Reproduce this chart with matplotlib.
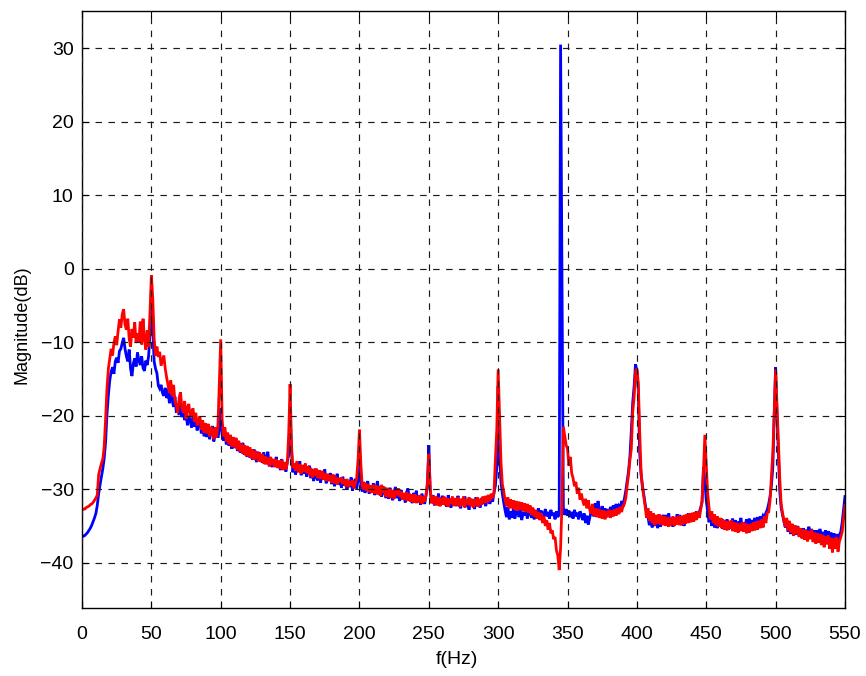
import numpy as np
import matplotlib
matplotlib.use("Agg")
import matplotlib.pyplot as plt

plt.rcParams['font.family'] = ['Liberation Sans', 'DejaVu Sans']

freq_start, freq_stop, freq_step = 0, 550, 1

blue_db = [
    -36.3,-36.4,-36.3,-36.1,-35.9,-35.6,-35.3,-34.9,-34.4,-33.9,
    -33.3,-32.2,-30.6,-29.4,-28.3,-27.2,-25.8,-23.6,-19.8,-17.2,
    -15.2,-14.0,-13.4,-14.3,-12.6,-12.1,-12.8,-11.2,-10.9,-10.1,
    -9.4,-10.9,-11.9,-12.6,-11.0,-13.6,-14.6,-12.9,-12.2,-13.3,
    -11.4,-12.5,-13.1,-11.9,-13.5,-13.9,-12.5,-13.1,-11.9,-8.8,
    -3.0,-8.2,-12.6,-13.6,-14.2,-15.9,-16.3,-15.8,-16.9,-17.3,
    -16.2,-17.6,-16.4,-18.3,-17.0,-17.9,-18.8,-17.4,-19.6,-18.6,
    -19.9,-18.3,-20.2,-19.0,-20.6,-19.5,-21.3,-20.0,-20.7,-21.6,
    -20.2,-21.5,-20.6,-22.0,-21.1,-20.7,-22.4,-21.4,-22.8,-21.9,
    -22.9,-21.6,-23.2,-22.1,-21.4,-23.5,-22.6,-21.9,-23.0,-21.8,
    -19.0,-22.6,-23.4,-22.1,-23.9,-22.8,-24.1,-23.0,-24.5,-23.3,
    -24.4,-23.1,-24.8,-23.6,-25.0,-24.2,-23.7,-25.3,-24.5,-25.6,
    -24.3,-25.7,-24.9,-26.0,-24.6,-25.8,-26.3,-24.9,-26.1,-25.3,
    -26.4,-25.0,-26.6,-25.6,-24.9,-26.8,-25.7,-27.0,-26.0,-26.9,
    -25.6,-27.1,-26.3,-27.4,-25.9,-27.0,-26.5,-27.6,-26.2,-25.4,
    -19.2,-24.8,-27.7,-26.6,-28.0,-26.9,-27.5,-26.2,-28.1,-27.3,
    -27.9,-26.6,-28.3,-27.4,-26.8,-28.5,-27.6,-28.9,-27.2,-28.4,
    -28.8,-27.5,-29.1,-27.9,-28.6,-27.3,-29.2,-28.1,-28.9,-27.8,
    -29.3,-28.2,-29.6,-28.5,-27.9,-29.4,-28.6,-29.8,-28.3,-29.5,
    -28.7,-30.0,-28.9,-29.7,-28.4,-30.2,-29.1,-28.6,-29.9,-28.8,
    -25.0,-29.4,-30.3,-29.0,-30.5,-29.6,-28.9,-30.6,-29.5,-30.4,
    -29.2,-30.8,-29.8,-28.9,-30.7,-29.9,-31.0,-29.6,-30.4,-31.2,
    -30.0,-31.3,-29.8,-30.9,-31.5,-30.3,-29.7,-31.2,-30.6,-31.6,
    -30.1,-31.4,-30.6,-31.8,-30.4,-29.9,-31.5,-30.7,-31.9,-30.5,
    -31.6,-30.2,-31.8,-30.9,-32.1,-30.6,-31.3,-32.0,-30.8,-29.5,
    -24.0,-30.1,-31.9,-30.8,-32.2,-31.1,-31.7,-30.6,-32.3,-31.4,
    -30.9,-32.1,-31.3,-32.4,-30.8,-31.9,-32.5,-31.2,-32.0,-31.5,
    -32.3,-30.9,-31.8,-32.6,-31.4,-32.1,-31.0,-32.4,-31.6,-32.8,
    -31.3,-32.2,-31.6,-32.7,-31.1,-32.3,-31.8,-32.5,-31.2,-32.0,
    -31.4,-32.3,-31.5,-30.8,-32.0,-31.2,-31.7,-30.5,-29.5,-27.0,
    -16.0,-25.5,-29.0,-30.6,-31.8,-32.9,-33.8,-32.4,-34.1,-33.0,
    -33.9,-32.6,-34.0,-33.2,-32.5,-33.8,-32.8,-34.2,-33.1,-33.6,
    -32.7,-34.0,-33.3,-32.6,-33.9,-33.0,-34.1,-32.9,-33.5,-32.6,
    -33.8,-32.9,-34.2,-33.4,-32.7,-33.7,-33.1,-34.0,-32.8,-33.6,
    -33.2,-34.1,-33.0,-33.8,-33.4,30.5,-1.0,-32.5,-33.5,-32.7,
    -33.6,-32.9,-33.8,-33.1,-34.0,-32.8,-33.7,-33.2,-34.1,-33.0,
    -33.5,-34.2,-33.3,-34.6,-33.6,-34.8,-33.9,-33.1,-32.5,-33.7,
    -31.9,-33.2,-31.6,-32.9,-33.6,-32.3,-33.4,-32.6,-33.8,-32.7,
    -33.5,-32.4,-33.3,-32.2,-33.4,-32.0,-32.9,-32.3,-32.7,-31.6,
    -32.4,-31.3,-30.2,-28.8,-27.5,-25.5,-22.0,-18.2,-16.0,-13.0,
    -13.8,-16.5,-25.0,-28.0,-29.5,-30.8,-32.0,-33.2,-33.8,-34.9,
    -33.6,-35.2,-34.1,-35.0,-33.8,-35.3,-34.3,-35.1,-34.0,-33.5,
    -34.8,-33.5,-34.6,-33.3,-34.9,-34.0,-35.1,-33.9,-34.7,-33.4,
    -34.6,-33.5,-34.9,-33.8,-35.0,-33.6,-34.5,-33.3,-34.4,-33.6,
    -34.2,-33.3,-34.0,-33.0,-33.8,-33.1,-32.5,-31.8,-27.0,-29.0,
    -31.5,-33.0,-34.5,-33.4,-35.0,-33.8,-35.2,-34.0,-35.3,-34.2,
    -35.1,-34.0,-35.4,-34.3,-35.3,-34.1,-35.5,-34.5,-35.2,-34.0,
    -35.3,-34.2,-35.6,-34.4,-35.0,-33.9,-35.4,-34.5,-35.2,-34.1,
    -35.1,-34.0,-35.3,-34.2,-34.9,-33.9,-34.8,-33.8,-34.6,-33.7,
    -34.2,-33.6,-33.9,-33.2,-32.8,-32.0,-31.0,-29.5,-27.0,-19.8,
    -13.4,-20.0,-25.0,-30.3,-32.5,-33.5,-34.4,-35.2,-34.3,-35.8,
    -34.7,-36.1,-35.0,-36.3,-35.2,-36.2,-35.0,-36.4,-35.3,-36.5,
    -35.3,-36.6,-35.5,-36.2,-35.1,-36.5,-35.4,-36.7,-35.6,-36.8,
    -35.6,-36.5,-35.4,-36.8,-35.8,-36.9,-35.6,-36.7,-35.7,-37.0,
    -35.9,-37.1,-36.0,-37.2,-36.1,-37.3,-36.2,-35.8,-34.5,-32.8,
    -31.0,
]

red_db = [
    -32.8,-32.7,-32.7,-32.5,-32.4,-32.3,-32.1,-32.0,-31.8,-31.5,
    -31.2,-30.8,-28.0,-27.2,-26.5,-25.9,-24.2,-20.5,-16.3,-13.6,
    -12.2,-10.9,-11.8,-10.1,-9.2,-10.4,-8.5,-6.9,-8.0,-6.2,
    -5.5,-7.6,-8.3,-6.8,-9.5,-10.6,-8.2,-9.4,-7.3,-10.1,
    -8.8,-9.9,-7.2,-10.3,-6.8,-9.6,-11.0,-8.4,-10.6,-6.0,
    -0.9,-4.0,-9.5,-11.8,-10.6,-12.0,-11.3,-13.2,-12.5,-11.8,
    -13.6,-14.8,-15.8,-16.9,-15.2,-17.3,-15.8,-18.0,-18.6,-19.6,
    -17.6,-16.8,-18.9,-19.6,-18.0,-20.4,-18.9,-18.4,-20.2,-19.7,
    -19.0,-20.8,-19.6,-21.3,-20.5,-20.1,-21.9,-20.6,-22.3,-21.0,
    -22.4,-21.1,-22.8,-21.5,-22.0,-23.2,-21.6,-22.9,-21.3,-15.5,
    -9.6,-20.5,-22.8,-21.6,-23.5,-22.3,-23.9,-22.6,-24.2,-22.9,
    -24.3,-23.0,-24.6,-23.4,-24.9,-23.8,-25.2,-24.0,-25.4,-24.1,
    -25.6,-24.3,-25.8,-24.6,-26.0,-24.8,-25.3,-26.2,-25.0,-26.3,
    -25.2,-26.5,-25.5,-26.6,-25.7,-26.9,-25.6,-26.7,-25.9,-27.0,
    -25.9,-27.1,-26.1,-27.2,-26.0,-27.4,-26.3,-27.3,-26.4,-22.5,
    -15.7,-24.0,-27.1,-26.5,-27.5,-26.2,-27.7,-26.6,-27.9,-26.7,
    -27.6,-26.5,-27.8,-26.9,-28.1,-27.1,-28.4,-27.3,-28.2,-27.2,
    -28.5,-27.4,-28.6,-27.5,-28.7,-27.8,-28.9,-27.9,-28.8,-28.1,
    -29.1,-28.0,-29.2,-28.3,-29.4,-28.5,-29.0,-28.4,-29.3,-28.7,
    -29.6,-28.6,-29.7,-28.9,-29.5,-28.8,-29.9,-29.2,-28.5,-26.0,
    -21.9,-26.5,-29.6,-30.0,-29.1,-30.2,-29.3,-30.4,-29.5,-30.5,
    -29.4,-30.6,-29.5,-30.7,-29.6,-30.9,-29.4,-30.5,-29.7,-31.0,
    -29.8,-31.1,-30.0,-31.2,-30.1,-31.3,-30.2,-30.8,-29.9,-31.0,
    -30.3,-31.4,-30.5,-31.5,-30.4,-31.6,-30.6,-31.7,-30.7,-31.8,
    -30.7,-31.9,-30.9,-31.8,-30.8,-32.0,-31.0,-31.7,-30.8,-29.0,
    -25.2,-30.0,-31.9,-30.9,-32.1,-31.0,-32.2,-31.1,-32.3,-31.2,
    -32.1,-31.0,-32.2,-31.2,-32.4,-31.3,-32.0,-31.0,-32.3,-31.2,
    -32.2,-31.1,-32.4,-31.3,-32.2,-31.0,-32.5,-31.4,-32.1,-31.1,
    -32.3,-31.3,-32.5,-31.4,-32.2,-31.1,-32.4,-31.3,-32.1,-31.0,
    -31.9,-30.9,-31.8,-30.8,-31.6,-30.6,-31.2,-30.5,-26.0,-21.9,
    -13.7,-20.1,-26.2,-29.3,-30.3,-31.5,-32.3,-31.1,-32.6,-31.4,
    -32.6,-31.5,-32.8,-31.6,-32.9,-31.7,-32.8,-31.8,-33.0,-31.9,
    -33.1,-32.0,-33.2,-32.2,-33.5,-32.5,-33.7,-32.8,-34.0,-33.1,
    -34.2,-33.3,-34.6,-33.7,-35.0,-34.2,-35.5,-34.6,-36.0,-35.6,
    -36.8,-36.5,-38.3,-39.0,-41.0,-38.0,-32.0,-21.5,-22.8,-24.0,
    -24.5,-26.8,-25.6,-27.8,-28.5,-29.6,-29.0,-30.6,-29.8,-31.4,
    -30.6,-31.6,-32.2,-31.3,-32.6,-31.5,-32.8,-33.3,-32.0,-33.6,
    -32.6,-33.8,-32.7,-33.9,-32.8,-34.0,-32.9,-34.1,-33.0,-33.8,
    -32.8,-33.9,-32.9,-33.7,-32.7,-33.6,-32.6,-33.4,-32.4,-33.1,
    -32.3,-32.0,-31.2,-29.5,-28.0,-26.0,-24.5,-19.5,-17.5,-14.0,
    -13.6,-15.5,-22.0,-27.5,-29.8,-31.0,-32.5,-33.9,-32.6,-34.3,
    -33.0,-34.6,-33.3,-34.9,-33.5,-34.7,-33.4,-34.8,-33.6,-34.9,
    -33.7,-35.0,-33.8,-35.1,-33.9,-34.9,-33.7,-35.0,-33.8,-34.8,
    -33.6,-34.9,-33.7,-34.8,-33.5,-34.7,-33.4,-34.6,-33.3,-34.5,
    -33.2,-34.4,-33.1,-34.2,-33.0,-33.9,-32.8,-31.5,-27.5,-22.6,
    -26.5,-30.5,-32.5,-34.1,-33.0,-34.6,-33.4,-34.9,-33.7,-35.1,
    -33.9,-35.3,-34.1,-35.5,-34.3,-35.6,-34.4,-35.4,-34.2,-35.7,
    -34.5,-35.8,-34.6,-35.9,-34.7,-35.7,-34.5,-35.8,-34.6,-36.0,
    -34.8,-35.9,-34.7,-35.7,-34.5,-35.6,-34.4,-35.5,-34.3,-35.3,
    -34.1,-35.2,-33.7,-34.6,-33.2,-33.1,-31.5,-28.3,-25.0,-19.8,
    -13.7,-18.5,-23.4,-28.5,-32.0,-33.2,-34.3,-35.1,-33.9,-35.6,
    -34.3,-35.9,-34.7,-36.3,-34.9,-36.1,-35.1,-36.5,-35.3,-36.7,
    -35.5,-36.9,-35.6,-37.1,-35.7,-36.8,-35.5,-37.2,-35.9,-37.4,
    -36.0,-37.3,-36.1,-37.6,-36.2,-37.9,-36.4,-37.5,-36.3,-38.1,
    -36.6,-38.6,-36.7,-38.1,-36.5,-38.5,-37.1,-36.5,-35.8,-34.0,
    -32.2,
]

x_ticks = [0, 50, 100, 150, 200, 250, 300, 350, 400, 450, 500, 550]
y_ticks = [-40, -30, -20, -10, 0, 10, 20, 30]
x_label = "f(Hz)"
y_label = "Magnitude(dB)"

freq = np.arange(freq_start, freq_stop + freq_step, freq_step)

fig = plt.figure(figsize=(8.66, 6.76), dpi=100)
ax = fig.add_axes([0.0947, 0.1002, 0.9757 - 0.0947, 0.984 - 0.1002])

ax.plot(freq, blue_db, color=(0, 0, 1), linewidth=2.0, solid_joinstyle='miter')
ax.plot(freq, red_db, color=(1, 0, 0), linewidth=2.0, solid_joinstyle='miter')

ax.set_xlim(0, 550)
ax.set_ylim(-46.2, 35.1)
ax.set_xticks(x_ticks)
ax.set_yticks(y_ticks)
ax.grid(True, color='#1a1a1a', linestyle=(0, (5.5, 5.5)), linewidth=0.85)
ax.set_axisbelow(False)
ax.tick_params(direction='in', length=5, width=0.8, top=True, right=True,
               labelsize=14)
ax.tick_params(axis='x', pad=13)
ax.tick_params(axis='y', pad=6)
for s in ax.spines.values():
    s.set_linewidth(1.0)
ax.set_xlabel(x_label, fontsize=14)
ax.set_ylabel(y_label, fontsize=13)
ax.xaxis.set_label_coords(0.492, -0.072)
ax.yaxis.set_label_coords(-0.068, 0.475)

fig.savefig("out.png", dpi=100)
